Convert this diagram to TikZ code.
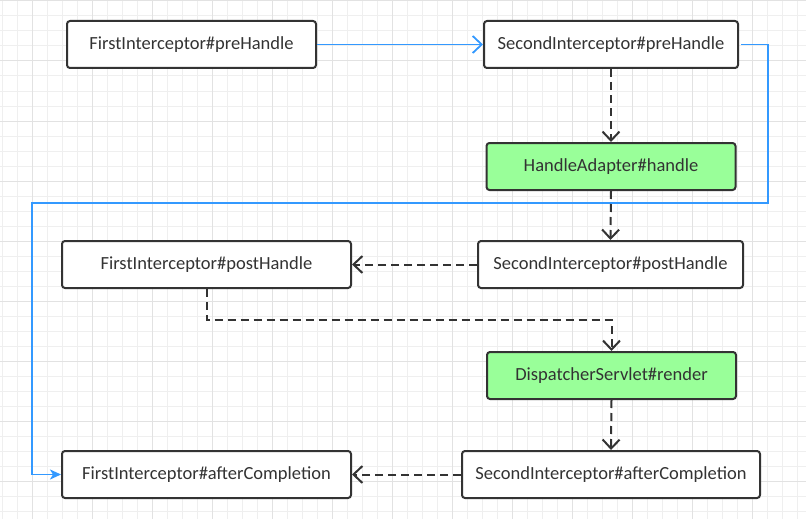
\documentclass[tikz,border=0pt]{standalone}
\usepackage{fontspec}
\setmainfont{Carlito}
\usetikzlibrary{arrows.meta}
\definecolor{gminor}{HTML}{EFEFEF}
\definecolor{gmajor}{HTML}{E2E2E2}
\definecolor{boxline}{HTML}{333333}
\definecolor{txt}{HTML}{333333}
\definecolor{flow}{HTML}{3399FF}
\definecolor{hl}{HTML}{99FF99}
\tikzset{
  stepbox/.style={draw=boxline, line width=2pt, rounded corners=3pt, fill=white,
    minimum height=47pt, inner sep=0pt, text=txt, font=\fontsize{18.5}{20}\selectfont},
  hlbox/.style={stepbox, fill=hl},
  dashconn/.style={draw=boxline, line width=2pt, dash pattern=on 8pt off 5pt,
    -{Straight Barb[length=9pt,width=17pt,line width=2pt]}},
  blueconn/.style={draw=flow, line width=1.8pt},
}
\begin{document}
\begin{tikzpicture}[x=1pt,y=-1pt]
\useasboundingbox (0,0) rectangle (806,519);
\fill[white] (0,0) rectangle (806,519);
\foreach \x in {2,17,...,806} \draw[gminor,line width=1pt] (\x,0) -- (\x,519);
\foreach \y in {1,16,...,519} \draw[gminor,line width=1pt] (0,\y) -- (806,\y);
\foreach \x in {32,92,...,806} \draw[gmajor,line width=1pt] (\x,0) -- (\x,519);
\foreach \y in {1,61,...,519} \draw[gmajor,line width=1pt] (0,\y) -- (806,\y);

\node[stepbox, minimum width=249pt] (fpre) at (191.5,44.5) {FirstInterceptor\#preHandle};
\node[stepbox, minimum width=254pt] (spre) at (611,44.5) {SecondInterceptor\#preHandle};
\node[hlbox, minimum width=249pt] (ha) at (611,166.5) {HandleAdapter\#handle};
\node[stepbox, minimum width=289pt] (fpost) at (206.5,264.5) {FirstInterceptor\#postHandle};
\node[stepbox, minimum width=265pt] (spost) at (610.5,264.5) {SecondInterceptor\#postHandle};
\node[hlbox, minimum width=249pt] (ds) at (611.5,375.5) {DispatcherServlet\#render};
\node[stepbox, minimum width=289pt] (faft) at (206.5,474.5) {FirstInterceptor\#afterCompletion};
\node[stepbox, minimum width=298pt] (saft) at (611,474.5) {SecondInterceptor\#afterCompletion};

\coordinate (c1) at (768,44.5);
\coordinate (c2) at (768,203);
\coordinate (c3) at (32,203);
\coordinate (c4) at (32,474.5);
\coordinate (c5) at (206.5,320);
\coordinate (c6) at (611.5,320);

\draw[blueconn, -{Straight Barb[length=9pt,width=17pt,line width=1.8pt]}] (fpre.east) -- (spre.west);
\draw[blueconn, -{Stealth[length=11pt,width=10pt,inset=3pt]}]
  ([xshift=2pt]spre.east) -- (c1) -- (c2) -- (c3) -- (c4) -- (faft.west);

\draw[dashconn] (spre.south) -- (ha.north);
\draw[dashconn] (ha.south) -- (spost.north);
\draw[dashconn] (spost.west) -- (fpost.east);
\draw[dashconn] (fpost.south) -- (c5) -- (c6) -- (ds.north);
\draw[dashconn] (ds.south) -- (saft.north);
\draw[dashconn] (saft.west) -- (faft.east);
\end{tikzpicture}
\end{document}
